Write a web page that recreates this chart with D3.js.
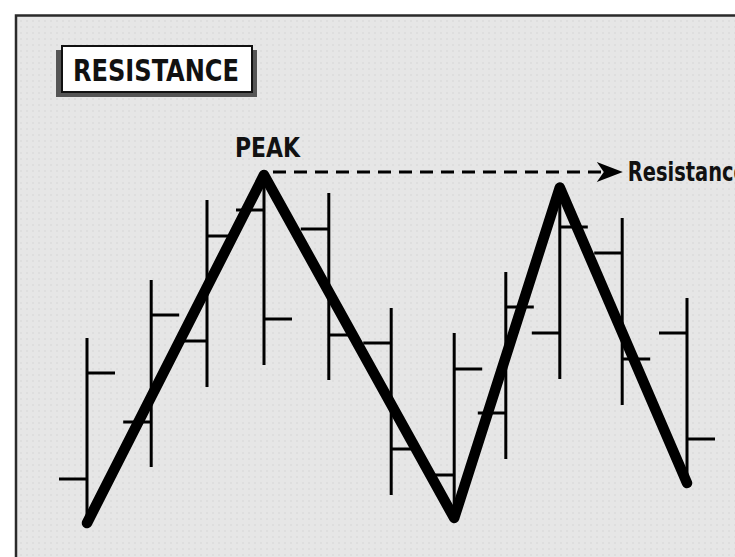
<!DOCTYPE html>
<html>
<head>
<meta charset="utf-8">
<script src="https://cdn.jsdelivr.net/npm/d3@7"></script>
<style>
  body { margin: 0; background: #fff; }
  svg { display: block; }
  .label { font-family: "Liberation Sans Narrow", "DejaVu Sans Condensed", "Liberation Sans", sans-serif; font-weight: bold; fill: #111; }
</style>
</head>
<body>
<svg class="chart"></svg>
<script>
const width = 735;
const height = 557;

// bar times (session position) and OHLC prices
const times  = [0, 1.07, 2.0, 2.95, 4.03, 5.07, 6.12, 6.98, 7.88, 8.92, 10];
const highs  = [55.5, 70, 90, 96.75, 91.75, 63, 56.75, 72, 93.75, 85.5, 65.5];
const lows   = [9.5, 23.25, 43.25, 48.75, 45, 16.25, 9.5, 25.25, 45.25, 38.75, 18.25];
const opens  = [20.25, 34.5, 54.75, 87.5, 82.75, 54.25, 21.25, 36.75, 56.75, 76.75, 56.75];
const closes = [46.75, 61.25, 81, 60.25, 56.25, 27.75, 47.75, 63.25, 83.25, 50.25, 30.25];

// swing line (troughs and peaks)
const swingTimes  = [0, 2.95, 6.12, 7.88, 10];
const swingPrices = [9.25, 96.25, 10.5, 93.1, 19.25];

// resistance level drawn from the first peak
const resistanceLevel = 97;
const resistanceFrom = 3.1;
const resistanceTo = 8.93;

const x = d3.scaleLinear()
    .domain([0, 10])
    .range([87, 687]);

const y = d3.scaleLinear()
    .domain([0, 100])
    .range([560, 160]);

const tick = 28;

const svg = d3.select(".chart")
    .attr("width", width)
    .attr("height", height);

// background texture
const defs = svg.append("defs");
const pat = defs.append("pattern")
    .attr("id", "dots")
    .attr("width", 6)
    .attr("height", 6)
    .attr("patternUnits", "userSpaceOnUse");
pat.append("rect")
    .attr("width", 6)
    .attr("height", 6)
    .attr("fill", "#e6e6e6");
pat.append("rect")
    .attr("x", 2).attr("y", 2)
    .attr("width", 2).attr("height", 2)
    .attr("fill", "#dedede");

svg.append("rect")
    .attr("x", 16)
    .attr("y", 15.5)
    .attr("width", 800)
    .attr("height", 600)
    .attr("fill", "url(#dots)")
    .attr("stroke", "#2a2a2a")
    .attr("stroke-width", 2.5);

// title box
svg.append("rect")
    .attr("x", 56).attr("y", 50)
    .attr("width", 201).attr("height", 47)
    .attr("fill", "#555");
svg.append("rect")
    .attr("x", 62).attr("y", 46)
    .attr("width", 190).attr("height", 46)
    .attr("fill", "#fff")
    .attr("stroke", "#111")
    .attr("stroke-width", 2);
svg.append("text")
    .attr("class", "label")
    .attr("x", 73)
    .attr("y", 81)
    .attr("font-size", 31)
    .attr("textLength", 166)
    .attr("lengthAdjust", "spacingAndGlyphs")
    .text("RESISTANCE");

// OHLC bars
const data = times.map((t, i) => {
  return {t: t, high: highs[i], low: lows[i], open: opens[i], close: closes[i]};
});

const bar = svg.selectAll(".bar")
    .data(data)
  .enter().append("g")
    .attr("class", "bar")
    .attr("transform", (d) => {
      return `translate(${ x(d.t) },0)`;
    })
    .attr("stroke", "#000")
    .attr("stroke-width", 3);

bar.append("line")
    .attr("x1", 0).attr("x2", 0)
    .attr("y1", (d) => y(d.high))
    .attr("y2", (d) => y(d.low));

bar.append("line")
    .attr("x1", -tick).attr("x2", 0)
    .attr("y1", (d) => y(d.open))
    .attr("y2", (d) => y(d.open));

bar.append("line")
    .attr("x1", 0).attr("x2", tick)
    .attr("y1", (d) => y(d.close))
    .attr("y2", (d) => y(d.close));

// resistance dashed line + arrow
const ry = y(resistanceLevel);
const tip = x(resistanceTo);
svg.append("line")
    .attr("x1", x(resistanceFrom))
    .attr("x2", tip - 18)
    .attr("y1", ry).attr("y2", ry)
    .attr("stroke", "#000")
    .attr("stroke-width", 3)
    .attr("stroke-dasharray", "13,8");
svg.append("path")
    .attr("d", `M${ tip },${ ry } L${ tip - 26 },${ ry - 10 } L${ tip - 19 },${ ry } L${ tip - 26 },${ ry + 10 } Z`)
    .attr("fill", "#000");

svg.append("text")
    .attr("class", "label")
    .attr("x", tip + 5)
    .attr("y", ry + 9)
    .attr("font-size", 26)
    .attr("textLength", 119)
    .attr("lengthAdjust", "spacingAndGlyphs")
    .text("Resistance");

// swing line
const swing = swingTimes.map((t, i) => [x(t), y(swingPrices[i])]);
svg.append("path")
    .attr("d", d3.line()(swing))
    .attr("fill", "none")
    .attr("stroke", "#000")
    .attr("stroke-width", 10.5)
    .attr("stroke-linejoin", "round")
    .attr("stroke-linecap", "round");

svg.append("text")
    .attr("class", "label")
    .attr("x", x(swingTimes[1]) - 29)
    .attr("y", 157)
    .attr("font-size", 26)
    .attr("textLength", 65)
    .attr("lengthAdjust", "spacingAndGlyphs")
    .text("PEAK");
</script>
</body>
</html>
